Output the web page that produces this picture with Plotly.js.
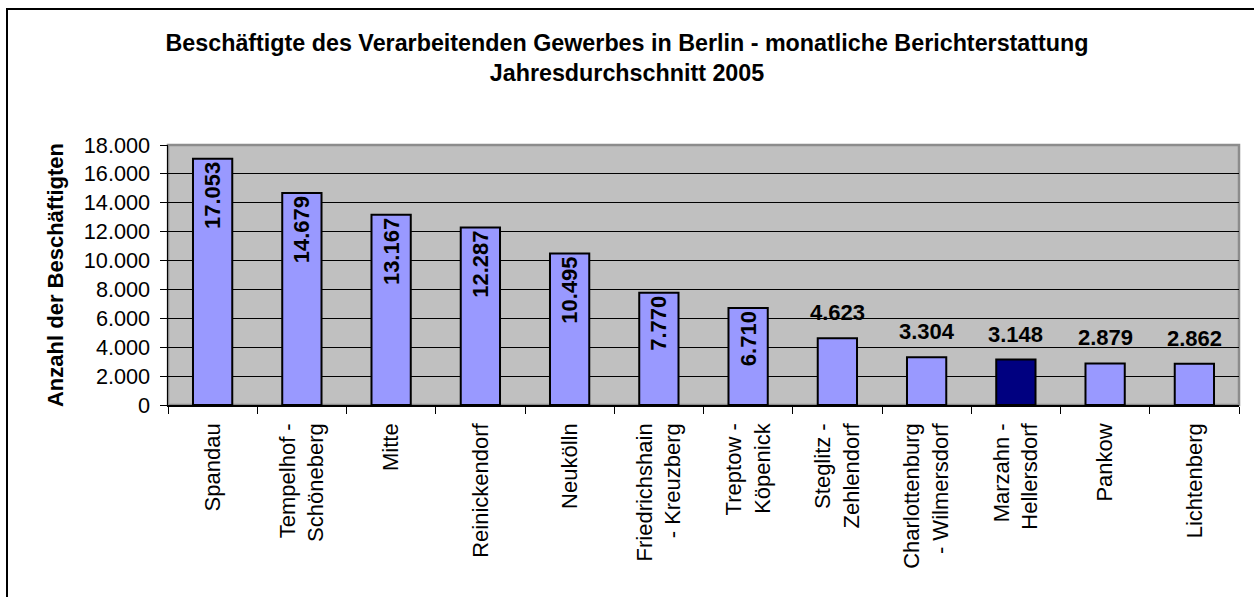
<!DOCTYPE html>
<html>
<head>
<meta charset="utf-8">
<script src="https://cdn.plot.ly/plotly-3.0.1.min.js"></script>
<style>
  html, body { margin: 0; padding: 0; background: #ffffff; }
  #chart { width: 1254px; height: 597px; }
</style>
</head>
<body>
<div id="chart"></div>
<script>
// ---- Data ----
const categories = [
  "Spandau",
  "Tempelhof -<br>Schöneberg",
  "Mitte",
  "Reinickendorf",
  "Neukölln",
  "Friedrichshain<br>- Kreuzberg",
  "Treptow -<br>Köpenick",
  "Steglitz -<br>Zehlendorf",
  "Charlottenburg<br>- Wilmersdorf",
  "Marzahn -<br>Hellersdorf",
  "Pankow",
  "Lichtenberg"
];
const employees = [17053, 14679, 13167, 12287, 10495, 7770, 6710, 4623, 3304, 3148, 2879, 2862];
const highlighted = "Marzahn -<br>Hellersdorf";
const yTickValues = [0, 2000, 4000, 6000, 8000, 10000, 12000, 14000, 16000, 18000];

// ---- Styling ----
const FONT = '"Liberation Sans", Arial, sans-serif';
const barColor = '#9999FF';
const highlightColor = '#000080';

function fmtDE(v) {
  return String(v).replace(/\B(?=(\d{3})+(?!\d))/g, '.');
}

const insideThreshold = 6000;
const colors = categories.map(c => c === highlighted ? highlightColor : barColor);
const textTemplates = employees.map(v => v > insideThreshold ? '%{y:,}' : '');

const trace = {
  type: 'bar',
  x: categories,
  y: employees,
  width: 0.44,
  marker: { color: colors, line: { color: '#000000', width: 2 } },
  texttemplate: textTemplates,
  textposition: 'inside',
  insidetextanchor: 'end',
  textangle: -90,
  insidetextfont: { family: FONT, size: 22, color: '#000000', weight: 'bold' },
  constraintext: 'none',
  cliponaxis: false,
  hoverinfo: 'x+y'
};

const annotations = [];
categories.forEach((c, i) => {
  if (employees[i] <= insideThreshold) {
    annotations.push({
      x: c, y: employees[i], xref: 'x', yref: 'y',
      text: '<b>' + fmtDE(employees[i]) + '</b>',
      showarrow: false, yanchor: 'bottom', yshift: 11,
      font: { family: FONT, size: 22, color: '#000000' }
    });
  }
});

// plot area geometry (pixels)
const W = 1254, H = 597;
const L = 168, R = 15, T = 145, B = 192;
const pw = W - L - R, ph = H - T - B;
const px = v => (v - L) / pw;
const py = v => (H - B - v) / ph;

const layout = {
  width: W, height: H,
  margin: { l: L, r: R, t: T, b: B },
  paper_bgcolor: '#ffffff',
  plot_bgcolor: '#C0C0C0',
  separators: ',.',
  showlegend: false,
  font: { family: FONT, color: '#000000', size: 21 },
  title: {
    text: '<b>Beschäftigte des Verarbeitenden Gewerbes in Berlin - monatliche Berichterstattung<br>Jahresdurchschnitt 2005</b>',
    font: { family: FONT, size: 23.3, color: '#000000' },
    x: 0.5, xref: 'container', xanchor: 'center',
    y: 1 - 51 / H, yref: 'container', yanchor: 'middle'
  },
  xaxis: {
    type: 'category',
    tickangle: -90,
    tickfont: { family: FONT, size: 22, color: '#000000' },
    ticks: 'outside', ticklen: 7, tickcolor: '#000000', tickwidth: 1,
    tickson: 'boundaries',
    showline: true, linecolor: '#000000', linewidth: 1.5,
    showgrid: false,
    ticklabelstandoff: 8,
    range: [-0.5, categories.length - 0.5]
  },
  yaxis: {
    range: [0, 18000],
    tickvals: yTickValues,
    tickformat: ',d',
    tickfont: { family: FONT, size: 21.7, color: '#000000' },
    ticks: 'outside', ticklen: 7, tickcolor: '#000000', tickwidth: 1,
    ticklabelstandoff: 5,
    showline: true, linecolor: '#000000', linewidth: 1.5,
    showgrid: true, gridcolor: '#000000', gridwidth: 1,
    zeroline: false,
    title: {
      text: '<b>Anzahl der Beschäftigten</b>',
      font: { family: FONT, size: 22, color: '#000000' },
      standoff: 14
    }
  },
  shapes: [
    { type: 'rect', xref: 'paper', yref: 'paper', x0: 0, x1: 1, y0: 0, y1: 1,
      line: { color: '#8C8C8C', width: 2.5 }, fillcolor: 'rgba(0,0,0,0)', layer: 'below' },
    { type: 'rect', xref: 'paper', yref: 'paper',
      x0: px(7), x1: px(1270), y0: py(620), y1: py(9),
      line: { color: '#000000', width: 2 }, fillcolor: 'rgba(0,0,0,0)', layer: 'above' }
  ],
  annotations: annotations,
  bargap: 0.56
};

Plotly.newPlot('chart', [trace], layout, { staticPlot: true, displayModeBar: false });
</script>
</body>
</html>
